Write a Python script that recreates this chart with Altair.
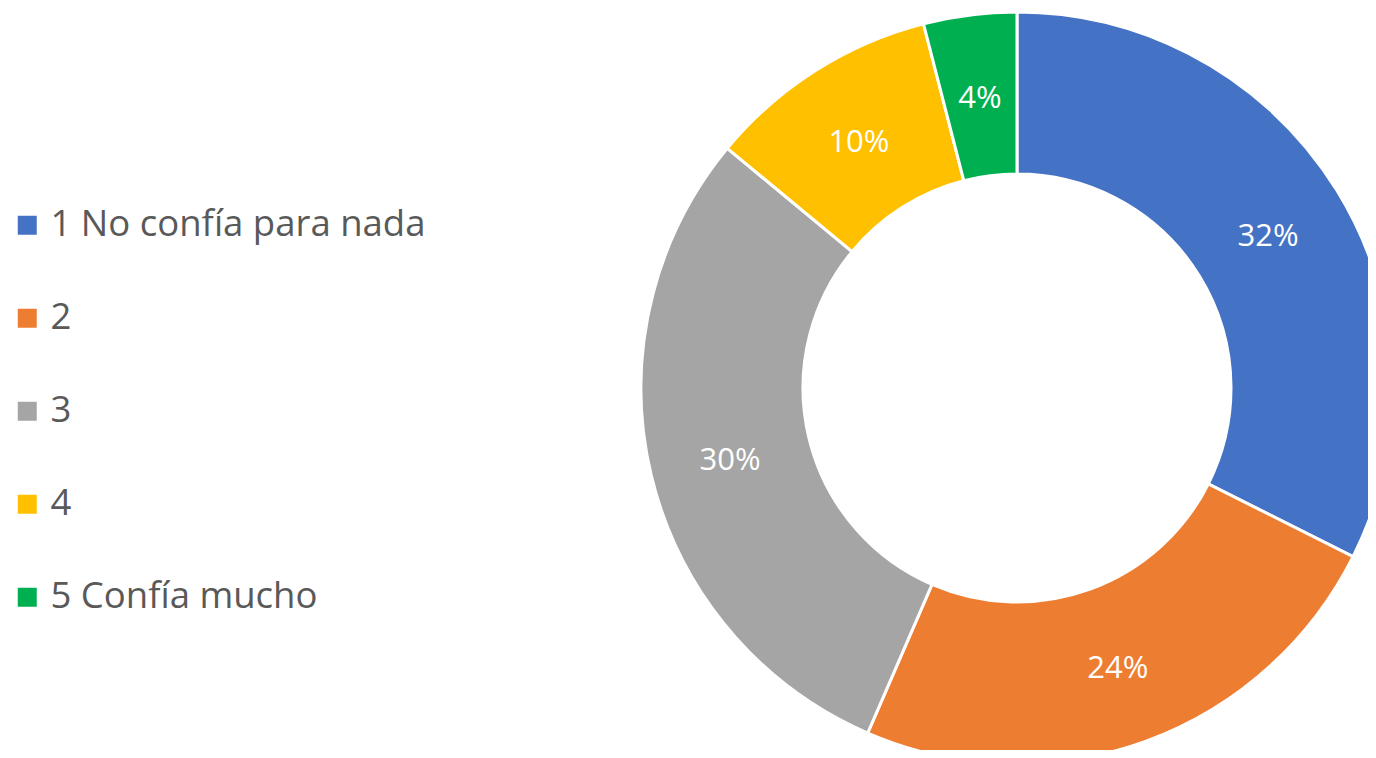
import altair as alt
import pandas as pd

categories = ["1 No confía para nada", "2", "3", "4", "5 Confía mucho"]
values = [32.4, 24.1, 29.5, 10.0, 4.0]
labels = ["32%", "24%", "30%", "10%", "4%"]
colors = ["#4472C4", "#ED7D31", "#A5A5A5", "#FFC000", "#00B050"]

df = pd.DataFrame({"cat": categories, "val": values, "lab": labels, "order": list(range(len(categories)))})

CX, CY = 1009, 380
R_OUT, R_IN = 376, 214

base = alt.Chart(df).encode(
    theta=alt.Theta("val:Q", stack=True),
    order=alt.Order("order:Q", sort="ascending"),
)

arcs = base.mark_arc(outerRadius=R_OUT, innerRadius=R_IN, stroke="white", strokeWidth=3).encode(
    x=alt.value(CX), y=alt.value(CY),
    color=alt.Color(
        "cat:N",
        scale=alt.Scale(domain=categories, range=colors),
        sort=categories,
        legend=alt.Legend(
            title=None, orient="none", legendX=1, legendY=199, padding=0,
            symbolType="square", symbolSize=361, symbolStrokeWidth=0,
            labelFontSize=36.5, labelFont="Open Sans", labelColor="#595959",
            labelLimit=700, labelOffset=5, rowPadding=56,
        ),
    ),
)

text = base.mark_text(radius=(R_OUT + R_IN) / 2, font="Open Sans", fontSize=31, color="white", dy=4).encode(
    x=alt.value(CX), y=alt.value(CY), text="lab:N"
)

chart = (arcs + text).properties(
    width=1360, height=742, autosize=alt.AutoSizeParams(type="none"), padding=0
).configure_view(stroke=None)

chart.save("out.html", embed_options={"renderer": "svg", "actions": False})
